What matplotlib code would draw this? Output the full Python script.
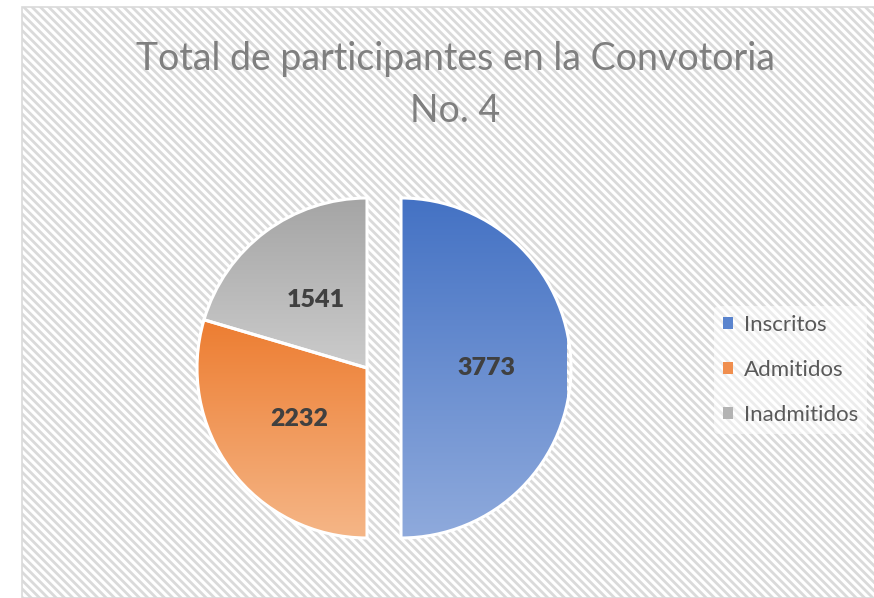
import matplotlib
matplotlib.use("Agg")
import matplotlib.pyplot as plt
import numpy as np
from matplotlib.patches import Rectangle, Patch
from matplotlib.colors import LinearSegmentedColormap

categories = ["Inscritos", "Admitidos", "Inadmitidos"]
values = [3773, 2232, 1541]
title_lines = ["Total de participantes en la Convotoria", "No. 4"]

top_colors = ["#4472C4", "#ED7D31", "#A5A5A5"]
bottom_colors = ["#8FAADC", "#F5B687", "#CBCBCB"]
legend_colors = ["#5A84CE", "#F08E4E", "#B3B3B3"]

W, H = 874, 598
DPI = 100
plt.rcParams["hatch.linewidth"] = 2.0
fig = plt.figure(figsize=(W / DPI, H / DPI), dpi=DPI)
fig.patch.set_facecolor("white")

# hatched chart background
bg = Rectangle((22 / W, 0), 1.0, 1 - 7 / H, transform=fig.transFigure,
               facecolor="white", edgecolor="#DADADA", hatch="\\\\\\\\", lw=1.2, zorder=-5)
fig.patches.append(bg)

# pie axes: center at (367, 368) px, radius 170 px
cx, cy, R = 367, 368, 170
half = 200
ax = fig.add_axes([(cx - half) / W, (H - cy - half) / H, 2 * half / W, 2 * half / H])
ax.patch.set_visible(False)

total = sum(values)
wedges, texts, autotexts = ax.pie(
    values, startangle=90, counterclock=False, explode=[0.2, 0, 0],
    radius=1.0, autopct=lambda p: f"{round(p * total / 100)}", pctdistance=0.5,
    wedgeprops=dict(edgecolor="white", linewidth=2.2),
    textprops=dict(fontsize=18, fontweight="heavy", color="#404040", family="Lato"),
)
for w, ct, cb in zip(wedges, top_colors, bottom_colors):
    ext = w.get_path().get_extents()
    cmap = LinearSegmentedColormap.from_list("g", [ct, cb])
    grad = np.linspace(0, 1, 256).reshape(-1, 1)
    im = ax.imshow(grad, cmap=cmap, aspect="auto", origin="upper",
                   extent=(ext.x0, ext.x1, ext.y0, ext.y1), zorder=1)
    im.set_clip_path(w)
    w.set_facecolor("none")
    w.set_zorder(2)
for t in autotexts:
    t.set_zorder(3)
lim = half / R
ax.set_xlim(-lim, lim)
ax.set_ylim(-lim, lim)
ax.set_aspect("equal")
ax.axis("off")

for line, yb in zip(title_lines, [70, 122]):
    fig.text(455 / W, 1 - yb / H, line, ha="center", va="baseline", fontsize=27,
             color="#7F7F7F", family="Lato")

handles = [Patch(facecolor=c, edgecolor="none") for c in legend_colors]
leg = fig.legend(handles, categories, loc="center left",
                 bbox_to_anchor=(703 / W, 1 - 370 / H), frameon=True,
                 prop=dict(family="Lato", size=16), labelcolor="#595959",
                 handlelength=0.45, handleheight=0.45, handletextpad=0.5,
                 labelspacing=1.12, borderpad=0.4)
leg.get_frame().set_facecolor("white")
leg.get_frame().set_alpha(0.5)
leg.get_frame().set_edgecolor("none")

fig.savefig("out.png", dpi=DPI)
